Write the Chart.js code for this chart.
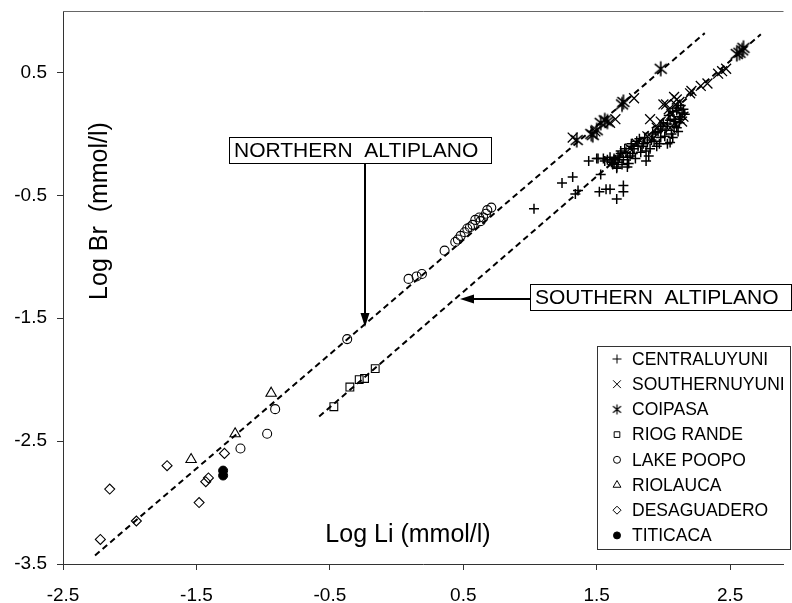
<!DOCTYPE html>
<html><head><meta charset="utf-8">
<script src="https://cdn.jsdelivr.net/npm/chart.js@4/dist/chart.umd.min.js"></script>
<style>html,body{margin:0;padding:0;background:#fff}#wrap{width:792px;height:603px}</style>
</head><body><div id="wrap"><canvas id="c" width="792" height="603"></canvas></div>
<script>
const xTicks = [-2.5, -1.5, -0.5, 0.5, 1.5, 2.5];
const yTicks = [-3.5, -2.5, -1.5, -0.5, 0.5];
const seriesNames = ["CENTRALUYUNI","SOUTHERNUYUNI","COIPASA","RIOG RANDE","LAKE POOPO","RIOLAUCA","DESAGUADERO","TITICACA"];
const centralUyuni = [[1.03,-0.61],[1.24,-0.40],[1.32,-0.35],[1.34,-0.49],[1.36,-0.46],[1.52,-0.47],[1.57,-0.45],[1.60,-0.45],[1.70,-0.42],[1.70,-0.47],[1.65,-0.53],[1.53,-0.33],
 [1.44,-0.22],[1.50,-0.20],[1.51,-0.20],[1.55,-0.20],[1.56,-0.22],[1.61,-0.23],[1.63,-0.24],[1.65,-0.28],[1.66,-0.18],[1.63,-0.20],[1.66,-0.23],[1.65,-0.27],[1.68,-0.14],[1.68,-0.16],[1.71,-0.12],[1.73,-0.19],[1.73,-0.27],[1.74,-0.24],[1.76,-0.10],[1.76,-0.08],[1.82,-0.04],[1.84,-0.10],[1.87,-0.14],[1.87,-0.22],[1.89,-0.18],[1.91,-0.05],[1.94,0.01],[1.98,0.04],[1.98,-0.03],[2.00,0.09],[2.03,-0.08],[2.04,0.15],[2.05,-0.07],[2.08,0.12],[2.10,0.19],[2.12,0.09],[2.13,0.23],[2.10,0.05],[2.06,0.00],[2.12,0.14],[1.95,-0.10],[1.80,-0.06],[1.60,-0.19],[1.58,-0.21],[1.70,-0.21],[1.77,-0.16],[1.85,-0.08],[2.02,0.03],[2.08,0.06],[2.14,0.17],
 [1.62,-0.25],[1.64,-0.21],[1.67,-0.19],[1.69,-0.25],[1.72,-0.15],[1.75,-0.18],[1.78,-0.12],[1.79,-0.20],[1.81,-0.10],[1.83,-0.15],[1.86,-0.03],[1.88,-0.07],[1.90,-0.12],[1.92,0.00],[1.93,-0.06],[1.96,0.02],[1.97,-0.08],[1.99,0.06],[2.01,-0.02],[2.03,0.08],[2.05,0.11],[2.07,0.18],[2.09,0.10],[2.11,0.21],[2.13,0.12],[2.15,0.20],[2.11,0.02],[2.07,-0.03],[2.16,0.16]];
const southernUyuni = [[1.32,-0.03],[1.49,0.02],[1.60,0.09],[1.64,0.12],[1.78,0.29],[1.90,0.12],[2.00,0.24],[2.02,0.24],[2.05,0.05],[2.08,0.30],[2.09,0.24],[2.10,0.28],[2.15,0.14],[2.20,0.33],[2.21,0.35],[2.28,0.39],[2.33,0.41],[2.41,0.49],[2.44,0.51],[2.47,0.53],[1.95,0.05],[1.88,-0.02],[1.80,-0.08],[1.75,-0.12],[2.04,0.20],[2.06,0.16],[2.12,0.26],[2.14,0.10],[1.98,0.10],[1.92,-0.04]];
const coipasa = [[1.35,-0.05],[1.46,0.00],[1.47,-0.01],[1.50,0.03],[1.53,0.09],[1.56,0.11],[1.58,0.10],[1.69,0.24],[1.70,0.26],[1.98,0.53],[2.55,0.65],[2.57,0.66],[2.59,0.68],[2.60,0.70]];
const rioGrande = [[-0.47,-2.22],[-0.35,-2.06],[-0.28,-2.00],[-0.24,-1.99],[-0.16,-1.91]];
const lakePoopo = [[-0.97,-2.44],[-0.91,-2.24],[-1.17,-2.56],[-0.37,-1.67],[0.09,-1.18],[0.15,-1.16],[0.19,-1.14],[0.36,-0.95],[0.44,-0.88],[0.46,-0.86],[0.48,-0.83],[0.51,-0.80],[0.53,-0.77],[0.57,-0.74],[0.59,-0.70],[0.62,-0.68],[0.65,-0.68],[0.67,-0.65],[0.68,-0.62],[0.71,-0.60],[0.63,-0.71],[0.55,-0.76]];
const rioLauca = [[-1.54,-2.65],[-1.21,-2.44],[-0.94,-2.11]];
const desaguadero = [[-2.22,-3.30],[-2.15,-2.89],[-1.95,-3.15],[-1.72,-2.70],[-1.48,-3.00],[-1.43,-2.83],[-1.41,-2.80],[-1.29,-2.60]];
const titicaca = [[-1.30,-2.74],[-1.30,-2.78]];
const northernLine = [[-2.26,-3.43],[2.31,0.82]];
const southernLine = [[-0.58,-2.30],[2.73,0.81]];
const annotations = [
  {text:"NORTHERN  ALTIPLANO", box:[229,137,492,164], arrowFrom:[365,164], arrowTo:[365,327]},
  {text:"SOUTHERN  ALTIPLANO", box:[530,284,792,311], arrowFrom:[530,299], arrowTo:[460,299]}
];

const FONT = "'Liberation Sans', Arial, Helvetica, sans-serif";
const pts = a => a.map(p => ({x:p[0], y:p[1]}));

function asterisk(r, lw){
  const s = Math.ceil(r*2+3), c = s/2, cv = document.createElement('canvas');
  cv.width = s; cv.height = s;
  const g = cv.getContext('2d');
  g.strokeStyle = '#000'; g.lineWidth = lw;
  g.beginPath();
  g.moveTo(c, c-r); g.lineTo(c, c+r);
  const d = r*0.8;
  g.moveTo(c-d, c-d*0.8); g.lineTo(c+d, c+d*0.8);
  g.moveTo(c-d, c+d*0.8); g.lineTo(c+d, c-d*0.8);
  g.stroke();
  return cv;
}
const starBig = asterisk(7.5, 1.6), starSmall = asterisk(5, 1.2);

const styles = [
  {ps:'cross', r:5, bw:1.5, fill:false, lr:4.5},
  {ps:'crossRot', r:7, bw:1.3, fill:false, lr:5.5},
  {ps:starBig, r:7.5, bw:1, fill:false, lr:5, legendImg:starSmall},
  {ps:'rect', r:5.5, bw:1.1, fill:false, lr:4},
  {ps:'circle', r:4.5, bw:1.1, fill:false, lr:3.5},
  {ps:'triangle', r:6, bw:1.1, fill:false, lr:4.5},
  {ps:'rectRot', r:5, bw:1.1, fill:false, lr:4},
  {ps:'circle', r:4.5, bw:1, fill:true, lr:3.5}
];
const seriesData = [centralUyuni, southernUyuni, coipasa, rioGrande, lakePoopo, rioLauca, desaguadero, titicaca];

const datasets = [];
[northernLine, southernLine].forEach(l => datasets.push({
  type:'line', data:pts(l), borderColor:'#000', borderWidth:2, borderDash:[6,4],
  pointRadius:0, fill:false, isFit:true, order:10
}));
seriesNames.forEach((n,i) => datasets.push({
  type:'scatter', label:n, data:pts(seriesData[i]),
  pointStyle:styles[i].ps, pointRadius:styles[i].r, pointBorderWidth:styles[i].bw,
  borderColor:'#000', backgroundColor: styles[i].fill ? '#000' : 'rgba(255,255,255,0)',
  pointBackgroundColor: styles[i].fill ? '#000' : 'rgba(255,255,255,0)', order:1
}));

const overlay = {
  id:'overlay',
  afterDraw(chart){
    const ctx = chart.ctx, ca = chart.chartArea;
    ctx.save();
    ctx.strokeStyle = '#666'; ctx.lineWidth = 1;
    ctx.beginPath(); ctx.moveTo(ca.left, ca.top+0.5); ctx.lineTo(ca.right, ca.top+0.5); ctx.stroke();
    ctx.fillStyle = '#000';
    ctx.font = "25px " + FONT;
    ctx.textAlign = 'center'; ctx.textBaseline = 'middle';
    ctx.fillText("Log Li (mmol/l)", 408, 535);
    ctx.save();
    ctx.translate(100, 211); ctx.rotate(-Math.PI/2);
    ctx.fillText("Log Br  (mmol/l)", 0, 0);
    ctx.restore();
    annotations.forEach(a => {
      const [x1,y1,x2,y2] = a.box;
      ctx.fillStyle = '#fff'; ctx.fillRect(x1,y1,x2-x1,y2-y1);
      ctx.strokeStyle = '#000'; ctx.lineWidth = 1;
      ctx.strokeRect(x1+0.5,y1+0.5,x2-x1-1,y2-y1-1);
      ctx.fillStyle = '#000'; ctx.font = "21px " + FONT;
      ctx.textAlign = 'left'; ctx.textBaseline = 'middle';
      ctx.fillText(a.text, x1+5, (y1+y2)/2+1);
      const [fx,fy] = a.arrowFrom, [tx,ty] = a.arrowTo;
      const ang = Math.atan2(ty-fy, tx-fx), hl = 14, hw = 4.5;
      const bx = tx - hl*Math.cos(ang), by = ty - hl*Math.sin(ang);
      ctx.lineWidth = 2;
      ctx.beginPath(); ctx.moveTo(fx,fy); ctx.lineTo(bx,by); ctx.stroke();
      ctx.beginPath(); ctx.moveTo(tx,ty);
      ctx.lineTo(bx + hw*Math.sin(ang), by - hw*Math.cos(ang));
      ctx.lineTo(bx - hw*Math.sin(ang), by + hw*Math.cos(ang));
      ctx.closePath(); ctx.fill();
    });
    const lx1 = 597, ly1 = 346, lx2 = 791, ly2 = 550;
    ctx.fillStyle = '#fff'; ctx.fillRect(lx1,ly1,lx2-lx1,ly2-ly1);
    ctx.strokeStyle = '#333'; ctx.lineWidth = 1;
    ctx.strokeRect(lx1+0.5,ly1+0.5,lx2-lx1-1,ly2-ly1-1);
    ctx.font = "17.5px " + FONT; ctx.textAlign='left'; ctx.textBaseline='middle';
    chart.data.datasets.filter(d => !d.isFit).forEach((d,i) => {
      const y = 359 + i*25.2;
      const st = styles[i];
      ctx.strokeStyle = '#000'; ctx.fillStyle = st.fill ? '#000' : 'rgba(255,255,255,0)';
      ctx.lineWidth = 1;
      Chart.helpers.drawPoint(ctx, {pointStyle: st.legendImg || d.pointStyle, radius:st.lr, rotation:0, borderWidth:1}, 617, y);
      ctx.fillStyle = '#000';
      ctx.fillText(d.label, 632, y+1);
    });
    ctx.restore();
  }
};

new Chart(document.getElementById('c'), {
  type:'scatter',
  data:{datasets},
  options:{
    responsive:false, animation:false, devicePixelRatio:1,
    layout:{padding:{top:11, right:1, left:0, bottom:0}},
    plugins:{legend:{display:false}, tooltip:{enabled:false}},
    scales:{
      x:{
        type:'linear', min:-2.5, max:2.9,
        afterBuildTicks(s){ s.ticks = xTicks.map(v=>({value:v})); },
        afterFit(s){ s.height = 39; s.paddingRight = 0; },
        ticks:{callback:v=>v.toFixed(1), color:'#000', font:{family:FONT, size:19}, padding:14, maxRotation:0, autoSkip:false},
        grid:{display:true, drawOnChartArea:false, drawTicks:true, tickLength:6, color:'#333'},
        border:{display:true, color:'#333', width:1}
      },
      y:{
        type:'linear', min:-3.5, max:1.0,
        afterBuildTicks(s){ s.ticks = yTicks.map(v=>({value:v})); },
        afterFit(s){ s.width = 63; s.paddingTop = 0; s.paddingBottom = 0; },
        ticks:{callback:v=>v.toFixed(1), color:'#000', font:{family:FONT, size:19}, padding:10, autoSkip:false},
        grid:{display:true, drawOnChartArea:false, drawTicks:true, tickLength:6, color:'#333'},
        border:{display:true, color:'#333', width:1}
      }
    }
  },
  plugins:[overlay]
});
</script></body></html>
